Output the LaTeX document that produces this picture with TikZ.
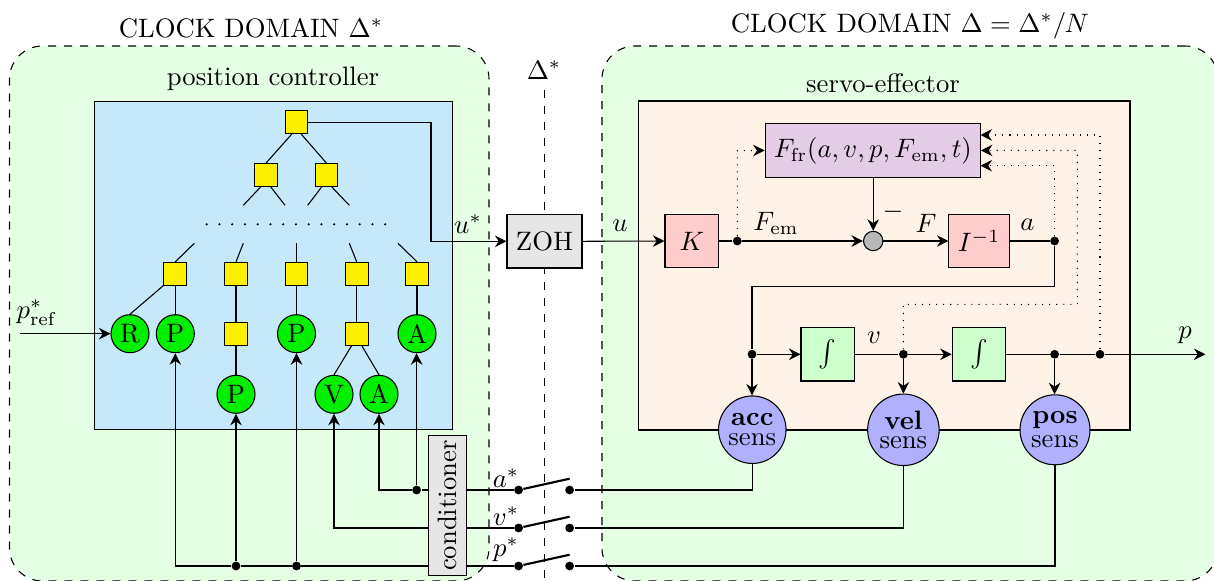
\documentclass[tikz,border=0pt]{standalone}
\usetikzlibrary{arrows.meta,calc}
\definecolor{regiong}{HTML}{E5FFE5}
\definecolor{blueb}{HTML}{C5E8FA}
\definecolor{creamb}{HTML}{FFF2E6}
\definecolor{yel}{HTML}{FFF000}
\definecolor{lgreen}{HTML}{00F000}
\definecolor{sensb}{HTML}{B0B0FF}
\definecolor{grayb}{HTML}{E6E6E6}
\definecolor{purp}{HTML}{E5CCE6}
\definecolor{pinkb}{HTML}{FFCCCC}
\definecolor{intg}{HTML}{CCFFCC}
\definecolor{sumg}{HTML}{B8B8B8}
\newcommand{\pxu}{0.375pt}
\tikzset{
  region/.style={draw,dashed,fill=regiong,rounded corners=33*\pxu,inner sep=0pt},
  panel/.style={draw,inner sep=0pt},
  treebox/.style={draw,fill=yel,minimum size=22.7*\pxu,inner sep=0pt},
  leaf/.style={draw,circle,fill=lgreen,minimum size=38*\pxu,inner sep=0pt},
  blockbox/.style={draw,inner sep=0pt},
  sens/.style={draw,circle,fill=sensb,inner sep=0pt,align=center},
  jdot/.style={circle,fill=black,minimum size=8.8*\pxu,inner sep=0pt},
  tipstyle/.style={>={Stealth[length=11.5*\pxu,width=11.5*\pxu,inset=3.8*\pxu]}},
  flow/.style={->,tipstyle},
  feedback/.style={->,tipstyle,dash pattern=on 0.4pt off 2.25pt},
  lab/.style={inner sep=0pt},
}
\begin{document}
\begin{tikzpicture}[x=\pxu,y=-\pxu]
\useasboundingbox (0,0) rectangle (1214,581);
\clip (0,0) rectangle (1214,581);
% regions
\node[region,minimum width=479.5*\pxu,minimum height=535*\pxu] (regL) at (249.25,313.5) {};
\node[region,minimum width=616*\pxu,minimum height=535*\pxu] (regR) at (910,313.5) {};
\node[lab] (titleL) at (251,28) {CLOCK DOMAIN $\Delta^*$};
\node[lab] (titleR) at (910,26) {CLOCK DOMAIN $\Delta=\Delta^*/N$};
\node[panel,fill=blueb,minimum width=358*\pxu,minimum height=328.3*\pxu] (pc) at (273.7,265.8) {};
\node[panel,fill=creamb,minimum width=491.4*\pxu,minimum height=329*\pxu] (se) at (884.3,265.5) {};
\node[lab] (pcT) at (273,79) {position controller};
\node[lab] (seT) at (883,83) {servo-effector};
% clock boundary
\node[lab] (dl) at (544,70) {$\Delta^*$};
\coordinate (dtop) at (544.5,90);
\coordinate (dbot) at (544.5,581);
\draw[dashed] (dtop) -- (dbot);
% tree
\node[treebox] (t0) at (296.5,122.3) {};
\node[treebox] (t1) at (266,175) {};
\node[treebox] (t2) at (326.5,175) {};
\coordinate (e1) at (243.3,205.3);
\coordinate (e2) at (285,205.3);
\coordinate (e3) at (307.7,205.3);
\coordinate (e4) at (349.3,205.3);
\draw ([xshift=-4.8*\pxu]t0.south) -- (t1.north);
\draw ([xshift=4.8*\pxu]t0.south) -- (t2.north);
\draw ([xshift=-5.3*\pxu]t1.south) -- (e1);
\draw ([xshift=4.7*\pxu]t1.south) -- (e2);
\draw ([xshift=-4.8*\pxu]t2.south) -- (e3);
\draw ([xshift=5.2*\pxu]t2.south) -- (e4);
\foreach \i in {0,...,14} \fill ({206.7+12.75*\i},224.3) circle (1.2*\pxu);
\node[treebox] (r1) at (175.3,273.7) {};
\node[treebox] (r2) at (236,273.7) {};
\node[treebox] (r3) at (296.5,273.7) {};
\node[treebox] (r4) at (356.7,273.7) {};
\node[treebox] (r5) at (417,273.7) {};
\coordinate (f1) at (194.3,243.3);
\coordinate (f2) at (243.3,243.3);
\coordinate (f3) at (296.5,243.3);
\coordinate (f4) at (349.3,243.3);
\coordinate (f5) at (398,243.3);
\draw (f1) -- (r1.north);
\draw (f2) -- (r2.north);
\draw (f3) -- (r3.north);
\draw (f4) -- (r4.north);
\draw (f5) -- (r5.north);
\node[leaf] (R) at (130,333.7) {R};
\node[leaf] (P1) at (175.3,333.7) {P};
\node[treebox] (q2) at (236,333.7) {};
\node[leaf] (P3) at (296.5,333.7) {P};
\node[treebox] (q4) at (356.7,333.7) {};
\node[leaf] (A5) at (417,333.7) {A};
\node[leaf] (P2) at (236,394.3) {P};
\node[leaf] (V4) at (334,394.3) {V};
\node[leaf] (A4) at (379,394.3) {A};
\draw (r1.south west) -- (R.north);
\draw (r1) -- (P1);
\draw (r2) -- (q2);
\draw (q2) -- (P2);
\draw (r3) -- (P3);
\draw (r4) -- (q4);
\draw (r5) -- (A5);
\draw ([xshift=-5*\pxu]q4.south) -- (V4.north);
\draw ([xshift=5*\pxu]q4.south) -- (A4.north);
% input
\coordinate (pin) at (20,333.7);
\draw[flow] (pin) -- (R);
\node[lab] (pl) at (37,313) {$p^*_{\mathrm{ref}}$};
% zoh
\node[blockbox,fill=grayb,minimum width=75*\pxu,minimum height=53.4*\pxu] (zoh) at (544.5,241.3) {ZOH};
\coordinate (ubend) at (431,122.3);
\draw[flow] (t0.east) -- (ubend) |- (zoh.west);
\node[lab] (ul) at (468,224) {$u^*$};
\node[lab] (u2) at (620,226) {$u$};
% servo blocks
\node[blockbox,fill=pinkb,minimum width=53.6*\pxu,minimum height=53.4*\pxu] (K) at (691.8,241) {$K$};
\node[jdot] (jF) at (737.3,241) {};
\node[draw,circle,fill=sumg,minimum size=19.4*\pxu,inner sep=0pt] (sum) at (873.2,241) {};
\node[blockbox,fill=pinkb,minimum width=60.2*\pxu,minimum height=53.4*\pxu] (I) at (979,241) {$I^{-1}$};
\node[jdot] (ja) at (1054.6,241) {};
\node[blockbox,fill=purp,minimum width=215.3*\pxu,minimum height=53.4*\pxu] (Ffr) at (872.8,150.4) {$F_{\mathrm{fr}}(a,v,p,F_{\mathrm{em}},t)$};
\draw[flow] (zoh.east) -- (K.west);
\draw (K.east) -- (jF);
\draw[flow] (jF) -- (sum.west);
\draw[flow] (sum.east) -- (I.west);
\draw (I.east) -- (ja);
\draw[flow] (Ffr.south -| sum) -- (sum.north);
\node[lab] (lFem) at (776,223) {$F_{\mathrm{em}}$};
\node[lab] (lmin) at (893,212) {$-$};
\node[lab] (lF) at (926,223) {$F$};
\node[lab] (la) at (1027.4,225) {$a$};
% integrators
\node[jdot] (jA) at (752,354.3) {};
\node[blockbox,fill=intg,minimum width=53.6*\pxu,minimum height=53.4*\pxu] (i1) at (827.8,354.3) {$\int$};
\node[jdot] (jV) at (903.4,354.3) {};
\node[blockbox,fill=intg,minimum width=53.6*\pxu,minimum height=53.4*\pxu] (i2) at (979,354.3) {$\int$};
\node[jdot] (jP) at (1054.6,354.3) {};
\node[jdot] (jQ) at (1100,354.3) {};
\coordinate (pout) at (1205.4,354.3);
\draw[flow] (jA) -- (i1.west);
\draw (i1.east) -- (jV);
\draw[flow] (jV) -- (i2.west);
\draw (i2.east) -- (jP) -- (jQ);
\draw[flow] (jQ) -- (pout);
\node[lab] (lv) at (874,338) {$v$};
\node[lab] (lp) at (1185,335) {$p$};
% sensors
\node[sens,minimum size=67.5*\pxu] (sa) at (752.3,429.7) {\textbf{acc}\\[-4.3pt]sens};
\node[sens,minimum size=71.5*\pxu] (sv) at (903.4,429.8) {\textbf{vel}\\[-4.7pt]sens};
\node[sens,minimum size=70*\pxu] (sp) at (1055,429.8) {\textbf{pos}\\[-3.2pt]sens};
\coordinate (abend) at (1054.6,286.3);
\draw (ja) -- (abend) -| (jA);
\draw[flow] (jA) -- (jA |- sa.north);
\draw[flow] (jV) -- (sv.north);
\draw[flow] (jP) -- (jP |- sp.north);
% dotted feedback
\coordinate (fb1) at (737.3,150.7);
\draw[feedback] (jF) -- (fb1) -- (Ffr.west);
\coordinate (fb2) at (1054.6,165.7);
\coordinate (fb2e) at (980.5,165.7);
\draw[feedback] (ja) -- (fb2) -- (fb2e);
\coordinate (fb3a) at (903.4,304.3);
\coordinate (fb3b) at (1077.3,304.3);
\coordinate (fb3c) at (1077.3,150.5);
\draw[feedback] (jV) -- (fb3a) -- (fb3b) -- (fb3c) -- (Ffr.east);
\coordinate (fb4) at (1100,135);
\coordinate (fb4e) at (980.5,135);
\draw[feedback] (jQ) -- (fb4) -- (fb4e);
% conditioner
\node[blockbox,fill=grayb,rotate=90,minimum width=140*\pxu,minimum height=38*\pxu] (cond) at (447.5,505.7) {conditioner};
% switches
\node[jdot] (al) at (518.6,490) {};
\node[jdot] (ar) at (569.6,490) {};
\node[jdot] (vl) at (518.6,528) {};
\node[jdot] (vr) at (569.6,528) {};
\node[jdot] (pl2) at (518.6,566) {};
\node[jdot] (pr) at (569.6,566) {};
\coordinate (aa) at (569.6,478.7);
\coordinate (va) at (569.6,516.7);
\coordinate (pa) at (569.6,554.7);
\draw[line width=0.8pt] (al) -- (aa);
\draw[line width=0.8pt] (vl) -- (va);
\draw[line width=0.8pt] (pl2) -- (pa);
\draw (cond.south |- al) -- (al);
\draw (cond.south |- vl) -- (vl);
\draw (cond.south |- pl2) -- (pl2);
\node[lab] (la2) at (506,478) {$a^*$};
\node[lab] (lv2) at (506,516) {$v^*$};
\node[lab] (lp2) at (506,550) {$p^*$};
\draw (sa.south) |- (ar);
\draw (sv.south) |- (vr);
\draw (sp.south) |- (pr);
% conditioner outputs
\node[jdot] (ja2) at (416.6,490) {};
\node[jdot] (jp1) at (236,566) {};
\node[jdot] (jp2) at (296.5,566) {};
\draw (cond.north |- ja2) -- (ja2);
\draw[flow] (ja2) -| (A4.south);
\draw[flow] (ja2) -- (ja2 |- A5.south);
\draw[flow] (cond.north |- vl) -| (V4.south);
\draw (cond.north |- jp2) -- (jp2) -- (jp1);
\draw[flow] (jp1) -- (P2.south);
\draw[flow] (jp2) -- (P3.south);
\draw[flow] (jp1) -| (P1.south);
\end{tikzpicture}
\end{document}
